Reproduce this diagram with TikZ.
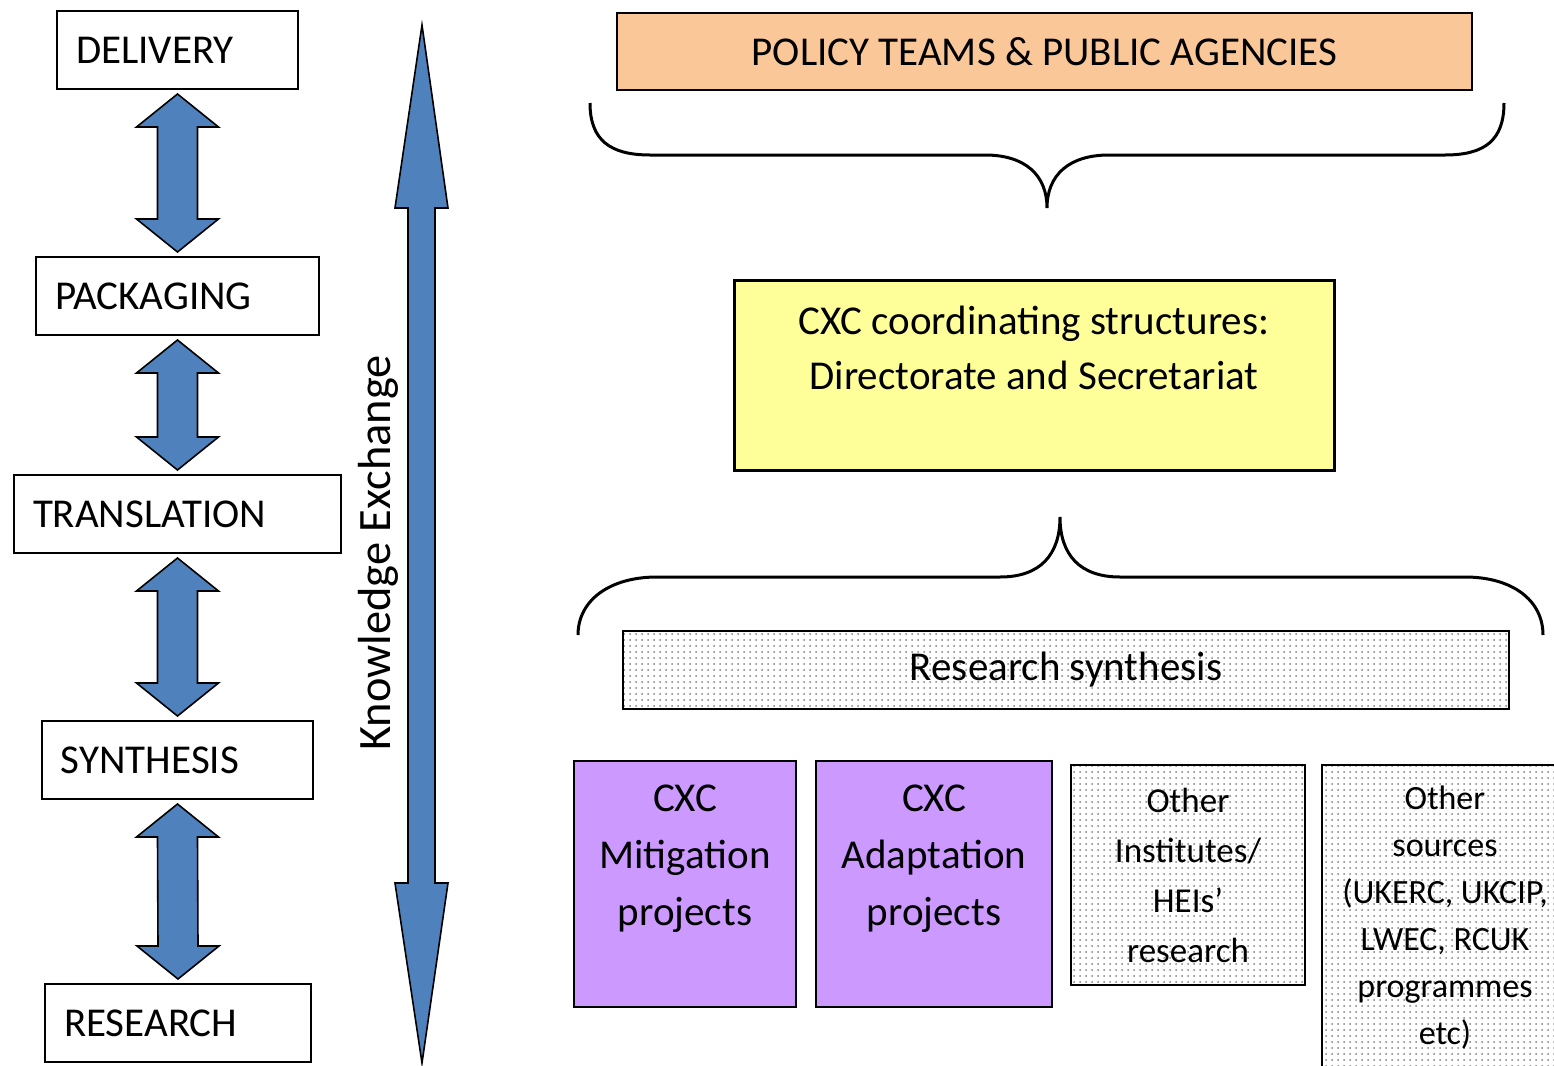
\documentclass[tikz,border=0pt]{standalone}
\usepackage{fontspec}
\setmainfont{Carlito}
\usetikzlibrary{calc,patterns}

\definecolor{policyorange}{RGB}{250,200,152}
\definecolor{hubyellow}{RGB}{255,255,153}
\definecolor{projpurple}{RGB}{204,153,255}
\definecolor{kxblue}{RGB}{79,129,189}

\tikzset{
    stagebox/.style={draw, line width=1pt, anchor=west, align=left, inner xsep=9.5pt,
        minimum height=39pt, font=\fontsize{20.5}{24}\selectfont},
    updown/.style={draw=black, line width=0.8pt, fill=kxblue, line join=miter},
    brace/.style={line width=1.5pt},
    dotbox/.style={draw, line width=0.8pt, pattern=dots, pattern color=gray},
    projbox/.style={draw, line width=1pt, fill=projpurple, minimum height=123pt},
    projtext/.style={align=center, font=\fontsize{20.5}{28.5}\selectfont},
}

\begin{document}
\begin{tikzpicture}[x=0.5pt, y=-0.5pt]
    \path[use as bounding box, fill=white] (0,0) rectangle (1554,1066);

    % stages
    \node[stagebox, text width=101.5pt] (del) at (56,50) {DELIVERY};
    \node[stagebox, text width=122.5pt] (pack) at (35,296) {PACKAGING};
    \node[stagebox, text width=144.5pt] (trans) at (13,514) {TRANSLATION};
    \node[stagebox, text width=116.5pt] (syn) at (41,760) {SYNTHESIS};
    \node[stagebox, text width=114pt] (res) at (44,1023) {RESEARCH};

    \foreach \a/\b in {del/pack, pack/trans, trans/syn, syn/res}
        \draw[updown] ($(\a.south)+(0,4)$) -- ++(41,33) -- ++(-21,0)
            -- ($(\b.north)+(20,-37)$) -- ++(21,0) -- ($(\b.north)+(0,-4)$)
            -- ++(-41,-33) -- ++(21,0) -- ($(\a.south)+(-20,37)$) -- ++(-21,0) -- cycle;

    % knowledge exchange
    \coordinate (ketop) at (422,25);
    \coordinate (kebot) at (422,1063);
    \draw[updown] (ketop) -- (448,208) -- (435,208) -- (435,883) -- (448,883) -- (kebot)
        -- (395,883) -- (408,883) -- (408,208) -- (395,208) -- cycle;
    \node[rotate=90, font=\fontsize{23.2}{27}\selectfont] (kx) at (378,553) {Knowledge Exchange};

    % policy side
    \node[draw, line width=1pt, fill=policyorange, minimum width=427.5pt, minimum height=38.5pt,
        font=\fontsize{20.5}{24}\selectfont] (policy) at (1044.5,51.5) {POLICY TEAMS \& PUBLIC AGENCIES};
    \draw[brace] (590,103) .. controls (590,140) and (610,155) .. (650,155) -- (985,155)
        .. controls (1025,155) and (1047,175) .. (1047,208)
        .. controls (1047,175) and (1069,155) .. (1109,155) -- (1445,155)
        .. controls (1485,155) and (1504,140) .. (1504,103);

    \node[draw, line width=1.5pt, fill=hubyellow, minimum width=300pt, minimum height=95pt] (cxc) at (1034,375) {};
    \node[align=center, font=\fontsize{20.5}{27.5}\selectfont] (cxclbl) at ([yshift=13.75pt]cxc.center)
        {CXC coordinating structures:\\Directorate and Secretariat};

    \draw[brace] (578,635) .. controls (578,600) and (610,577) .. (657,577) -- (1000,577)
        .. controls (1040,577) and (1060,555) .. (1060,517)
        .. controls (1060,555) and (1080,577) .. (1120,577) -- (1465,577)
        .. controls (1512,577) and (1543,600) .. (1543,635);

    \node[dotbox, minimum width=443pt, minimum height=39pt, font=\fontsize{20.5}{24}\selectfont]
        (synth) at (1066,670) {Research synthesis};

    % sources
    \node[projbox, minimum width=111pt] (mit) at (685,884) {};
    \node[projtext] (mitlbl) at ([yshift=12.5pt]mit.center) {CXC\\Mitigation\\projects};
    \node[projbox, minimum width=118pt] (adp) at (934,884) {};
    \node[projtext] (adplbl) at ([yshift=12.5pt]adp.center) {CXC\\Adaptation\\projects};
    \node[dotbox, minimum width=117pt, minimum height=110pt, align=center,
        font=\fontsize{17.5}{25}\selectfont] (hei) at (1188,875) {Other\\Institutes/\\HEIs’\\research};
    \node[dotbox, minimum width=123pt, minimum height=153pt, align=center,
        font=\fontsize{17}{23.5}\selectfont] (other) at (1445,918)
        {Other\\sources\\(UKERC, UKCIP,\\LWEC, RCUK\\programmes\\etc)};
\end{tikzpicture}
\end{document}
